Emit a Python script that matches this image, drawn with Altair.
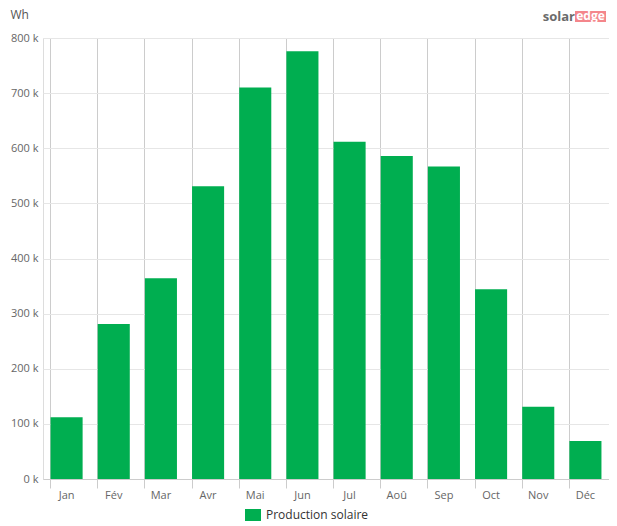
import altair as alt
import pandas as pd

months = ["Jan", "Fév", "Mar", "Avr", "Mai", "Jun", "Jul", "Aoû", "Sep", "Oct", "Nov", "Déc"]
production_wh = [112000, 281000, 364000, 531000, 710000, 776000, 612000, 586000, 567000, 344000, 131000, 69000]
series_name = "Production solaire"
y_ticks = [0, 100000, 200000, 300000, 400000, 500000, 600000, 700000, 800000]

df = pd.DataFrame({"month": months, "wh": production_wh, "series": [series_name] * len(months)})

FONT = "Open Sans"
W, H = 566, 441

bars = alt.Chart(df).mark_bar(color="#00ae50").encode(
    x=alt.X("month:N", sort=months, title=None,
            scale=alt.Scale(paddingInner=0.32, paddingOuter=0.16),
            axis=alt.Axis(bandPosition=0, labelAngle=0,
                          grid=True, gridColor="#cccccc", gridWidth=1,
                          domainColor="#cccccc", tickColor="#cccccc", tickSize=9,
                          labelColor="#666666", labelFontSize=11, labelFont=FONT,
                          labelPadding=1)),
    y=alt.Y("wh:Q", scale=alt.Scale(domain=[0, 800000], nice=False),
            axis=alt.Axis(values=y_ticks, labelExpr="datum.value / 1000 + ' k'",
                          domain=False, ticks=False, gridColor="#e6e6e6",
                          labelColor="#666666", labelFontSize=11, labelFont=FONT,
                          labelPadding=5,
                          title="Wh", titleAngle=0, titleAlign="left",
                          titleBaseline="alphabetic", titleX=-33, titleY=-20,
                          titleFont=FONT, titleFontSize=12, titleFontWeight="normal",
                          titleColor="#555555")),
    fill=alt.Fill("series:N", scale=alt.Scale(range=["#00ae50"]),
                  legend=alt.Legend(title=None, orient="none", legendX=202, legendY=469,
                                    symbolType="M-1,-0.75H1V0.75H-1Z", symbolSize=256,
                                    symbolStrokeWidth=0, labelFont=FONT, labelFontSize=12,
                                    labelColor="#333333", labelOffset=5)),
)

logo_bg = alt.Chart(df.head(1)).mark_rect(color="#f4868b").encode(
    x=alt.value(532), x2=alt.value(563), y=alt.value(-27), y2=alt.value(-16)
)
logo_solar = alt.Chart(df.head(1)).mark_text(
    text="solar", font=FONT, fontSize=13, fontWeight="bold", color="#6b6b6b",
    align="right", baseline="alphabetic"
).encode(x=alt.value(532), y=alt.value(-17))
logo_edge = alt.Chart(df.head(1)).mark_text(
    text="edge", font=FONT, fontSize=12, fontWeight="bold", color="#ffffff",
    align="center", baseline="alphabetic"
).encode(x=alt.value(547.5), y=alt.value(-18))

chart = alt.layer(bars, logo_bg, logo_solar, logo_edge).properties(
    width=W, height=H,
    autosize=alt.AutoSizeParams(type="none"),
    padding={"left": 35, "top": 30, "right": 0, "bottom": 47},
).configure_view(stroke=None).configure(font=FONT)

chart.save("out.html", embed_options={"renderer": "svg", "actions": False})
